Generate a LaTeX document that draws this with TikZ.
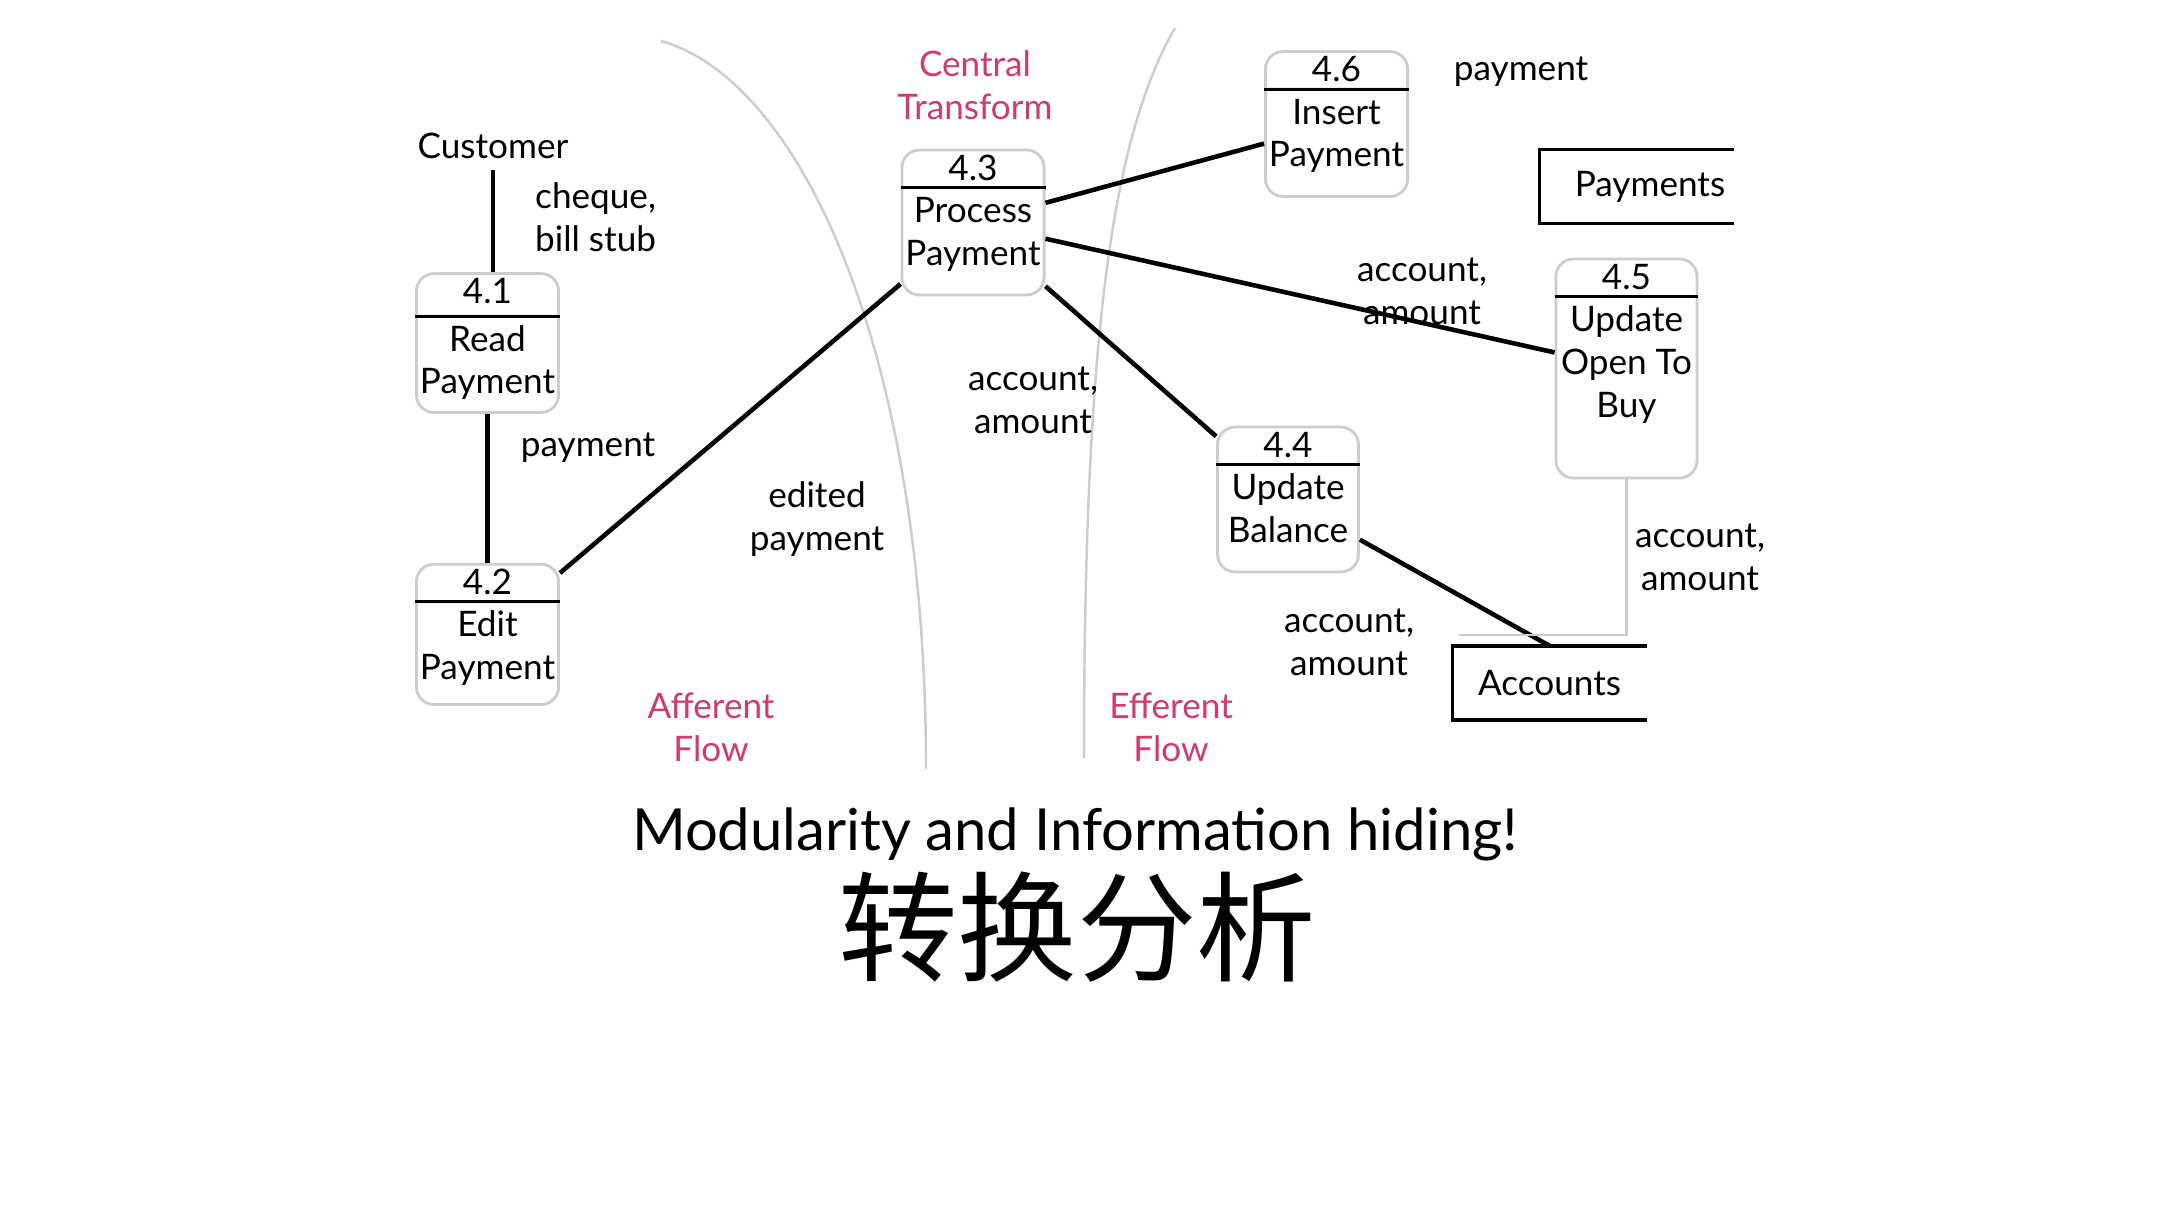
\documentclass[tikz,border=0pt]{standalone}
\usepackage{fontspec}
\setmainfont{Lato}
\newfontfamily\cjk{Noto Sans CJK SC}
\usetikzlibrary{positioning, shapes.multipart}

\definecolor{flowpink}{RGB}{208,58,108}
\definecolor{boxgray}{RGB}{205,205,205}
% struts for the parts of a process box
\newcommand{\hd}{\rule[-0.023cm]{0pt}{0.277cm}}
\newcommand{\tp}{\rule{0pt}{0.30cm}}
\newcommand{\tail}[1][0.246cm]{\rule[-#1]{0pt}{0pt}}

\begin{document}
\begin{tikzpicture}[
    font=\fontsize{10}{12.2}\selectfont,
    proc/.style={rectangle split, rectangle split parts=2, draw=boxgray, line width=0.8pt, rounded corners=5pt, minimum width=1.41cm, inner xsep=1pt, inner ysep=1pt, align=center},
    divider/.style={black, line width=0.9pt},
    store/.style={minimum width=1.93cm, minimum height=0.73cm, inner sep=0pt},
    storeline/.style={black, line width=1pt},
    flow/.style={black, line width=1.3pt},
    area/.style={boxgray, line width=0.7pt},
    lbl/.style={align=center, inner sep=0pt},
    zone/.style={align=center, inner sep=0pt, text=flowpink}
]
\useasboundingbox (0,0) rectangle (21.6,-12.15);

% Boundaries
\draw[area] (6.61,-0.41) .. controls (8.00,-0.80) and (9.26,-3.50) .. (9.26,-7.69);
\draw[area] (11.75,-0.28) .. controls (11.10,-1.40) and (10.84,-3.50) .. (10.84,-7.58);

% Processes
\node[proc] (p41) at (4.875,-3.43) {\rule[-0.073cm]{0pt}{0.327cm}4.1\nodepart{two}\tp Read\\Payment\tail[0.136cm]};
\node[proc, below=1.49cm of p41] (p42) {\hd 4.2\nodepart{two}\tp Edit\\Payment\tail[0.2cm]};
\node[proc] (p43) at (9.73,-2.225) {\hd 4.3\nodepart{two}\tp Process\\Payment\tail};
\node[proc] (p46) at (13.365,-1.24) {\hd 4.6\nodepart{two}\tp Insert\\Payment\tail};
\node[proc] (p44) at (12.88,-4.995) {\hd 4.4\nodepart{two}\tp Update\\Balance\tail};
\node[proc] (p45) at (16.265,-3.685) {\hd 4.5\nodepart{two}\tp Update\\Open To\\Buy\tail[0.56cm]};
\foreach \p in {p41,p42,p43,p44,p45,p46}
    \draw[divider] (\p.text split west) -- (\p.text split east);

% Stores
\node[store] (pays) at (16.365,-1.865) {\hspace{0.27cm}Payments};
\node[store] (acc) at (15.495,-6.83) {Accounts};
\draw[storeline] (pays.north east) -- (pays.north west) -- (pays.south west) -- (pays.south east);
\draw[storeline] (acc.north east) -- (acc.north west) -- (acc.south west) -- (acc.south east);

% Source
\node[lbl] (cust) at (4.93,-1.46) {Customer};

% Connections
\draw[flow] ([yshift=-0.1cm]cust.south) -- (cust.south |- p41.north);
\draw[flow] (p41) -- (p42);
\draw[flow] (p42) -- (p43);
\draw[flow] (p43) -- (p46);
\draw[flow] (p43) -- (p45);
\draw[flow] (p43) -- (p44);
\draw[flow] (p44) -- (acc.north);
\coordinate (accin) at ([xshift=0.07cm, yshift=0.11cm]acc.north west);
\draw[area] (p45.south) |- (accin);

% Flow labels
\node[lbl, align=left, anchor=west] (l1) at (5.345,-2.17) {cheque,\\bill stub};
\node[lbl] (l2) at (5.88,-4.48) {payment};
\node[lbl] (l3) at (8.17,-5.19) {edited\\payment};
\node[lbl] (l4) at (10.33,-4.00) {account,\\amount};
\node[lbl] (l5) at (14.22,-2.91) {account,\\amount};
\node[lbl] (l6) at (15.21,-0.72) {payment};
\node[lbl] (l7) at (17.00,-5.57) {account,\\amount};
\node[lbl] (l8) at (13.49,-6.42) {account,\\amount};

% Zones
\node[zone] (central) at (9.75,-0.85) {Central\\Transform};
\node[zone] (aff) at (7.11,-7.27) {Afferent\\Flow};
\node[zone] (eff) at (11.71,-7.27) {Efferent\\Flow};

% Title
\node[lbl, font=\fontsize{16.5}{20}\selectfont] (title) at (10.75,-8.34) {Modularity and Information hiding!};
\node[lbl, font=\cjk\fontsize{34}{40}\selectfont] (subtitle) at (10.77,-9.27) {转换分析};

\end{tikzpicture}
\end{document}
